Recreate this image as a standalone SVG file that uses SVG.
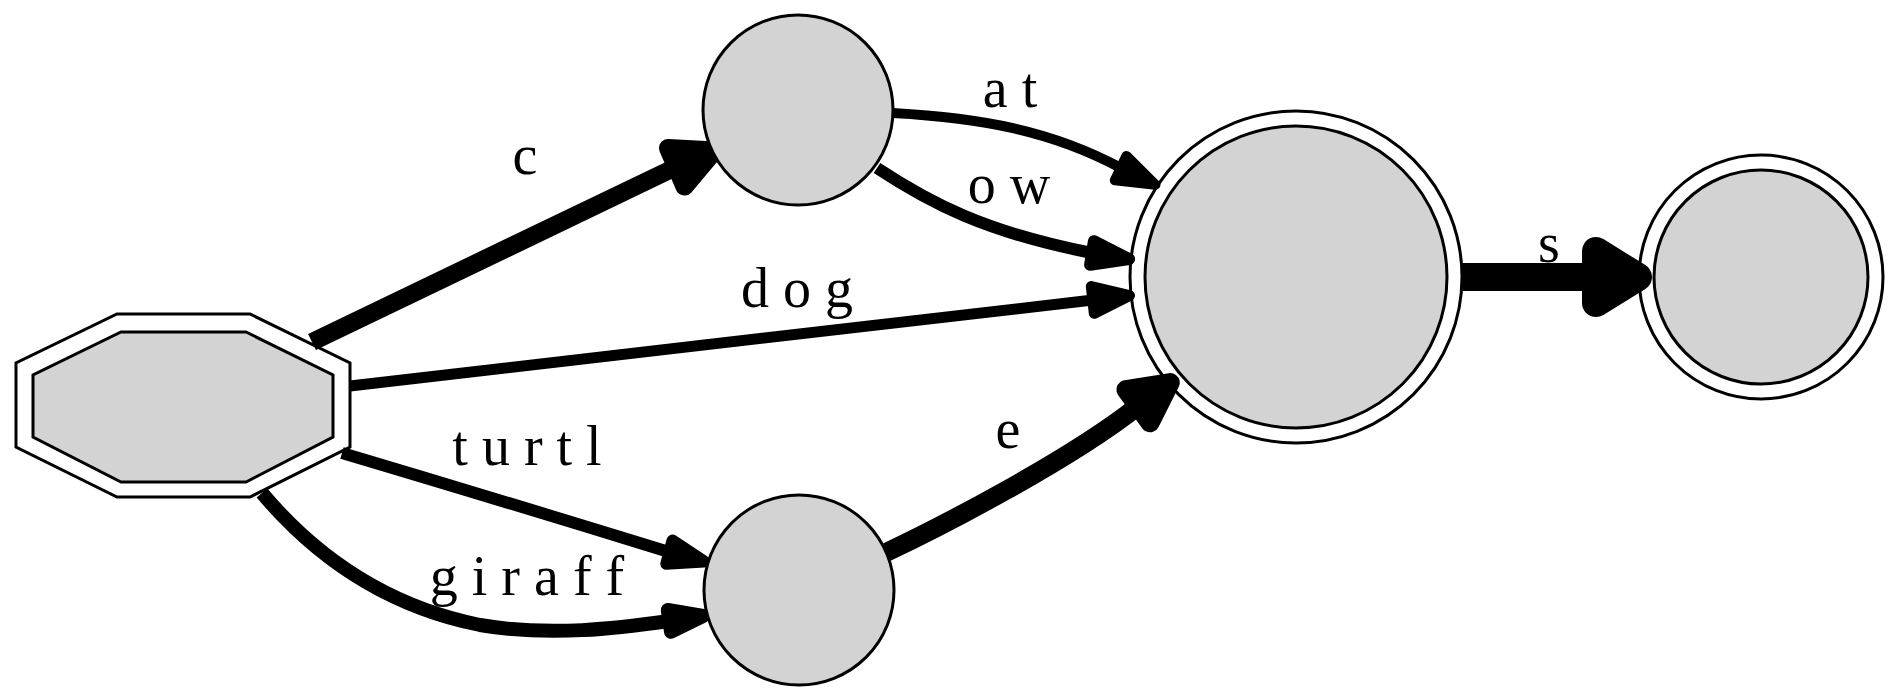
<svg xmlns="http://www.w3.org/2000/svg" width="1900" height="700" viewBox="0 0 1900 700">
<style>
.bg{fill:#ffffff}
.nd{fill:#d3d3d3;stroke:#000;stroke-width:3}
.ring{fill:none;stroke:#000;stroke-width:3}
.e{fill:none;stroke:#000}
.ah{fill:#000;stroke:#000;stroke-linejoin:round}
.lb{font-family:"Liberation Serif","Times New Roman",serif;font-size:56px;fill:#000;text-anchor:middle}
</style>
<rect class="bg" x="0" y="0" width="1900" height="700"/>
<g id="connectors">
  <g id="edge-c">
    <path class="e" stroke-width="18" d="M312,342 L676,167"/>
    <polygon class="ah" stroke-width="18" points="714.7,150.6 684.5,186.6 667.9,148"/>
    <text class="lb" x="525" y="174">c</text>
  </g>
  <g id="edge-at">
    <path class="e" stroke-width="10" d="M893,113 C980,118 1050,130 1121,168"/>
    <polygon class="ah" stroke-width="10" points="1155.5,184.8 1114.8,180.3 1126.4,155.9"/>
    <text class="lb" x="1010" y="107">a t</text>
  </g>
  <g id="edge-ow">
    <path class="e" stroke-width="12" d="M877,168 C930,203 985,232 1092,253"/>
    <polygon class="ah" stroke-width="12" points="1129.1,259 1090.1,264.8 1093.9,241.2"/>
    <text class="lb" x="1009" y="203">o w</text>
  </g>
  <g id="edge-dog">
    <path class="e" stroke-width="11" d="M350,386 L1093,300"/>
    <polygon class="ah" stroke-width="11" points="1129.5,295.6 1094.3,313.3 1091.3,286.5"/>
    <text class="lb" x="797" y="307">d o g</text>
  </g>
  <g id="edge-turtl">
    <path class="e" stroke-width="12" d="M342,453 Q500,500 669,552"/>
    <polygon class="ah" stroke-width="12" points="704.2,561.5 666.3,563.8 672.5,540.6"/>
    <text class="lb" x="527" y="465">t u r t l</text>
  </g>
  <g id="edge-giraff">
    <path class="e" stroke-width="14" d="M262,493 C310,550 380,605 480,625 C550,637 620,628 669,621"/>
    <polygon class="ah" stroke-width="14" points="703.1,616 671,631.8 667.8,610"/>
    <text class="lb" x="527" y="595">g i r a f f</text>
  </g>
  <g id="edge-e">
    <path class="e" stroke-width="19" d="M885,553 C940,527 1070,460 1138,406"/>
    <polygon class="ah" stroke-width="19" points="1170.3,382.6 1150.1,422.8 1125.9,389.6"/>
    <text class="lb" x="1008" y="448">e</text>
  </g>
  <g id="edge-s">
    <path class="e" stroke-width="28" d="M1462,277 L1596,277"/>
    <polygon class="ah" stroke-width="28" points="1638,277 1596,251 1596,303"/>
    <text class="lb" x="1549" y="262">s</text>
  </g>
</g>
<g id="node-start">
  <polygon class="ring" points="117,314 250,314 350,363 350,447 250,497 117,497 16,447 16,363"/>
  <polygon class="nd" points="121,332 246,332 333,375 333,437 246,482 121,482 33,437 33,375"/>
</g>
<g id="node-c">
  <circle class="nd" cx="798" cy="110" r="95"/>
</g>
<g id="node-g">
  <circle class="nd" cx="799" cy="590" r="95"/>
</g>
<g id="node-mid">
  <circle class="ring" cx="1296" cy="277" r="166"/>
  <circle class="nd" cx="1296" cy="277" r="151"/>
</g>
<g id="node-end">
  <circle class="ring" cx="1761" cy="277" r="122"/>
  <circle class="nd" cx="1761" cy="277" r="107"/>
</g>
</svg>
